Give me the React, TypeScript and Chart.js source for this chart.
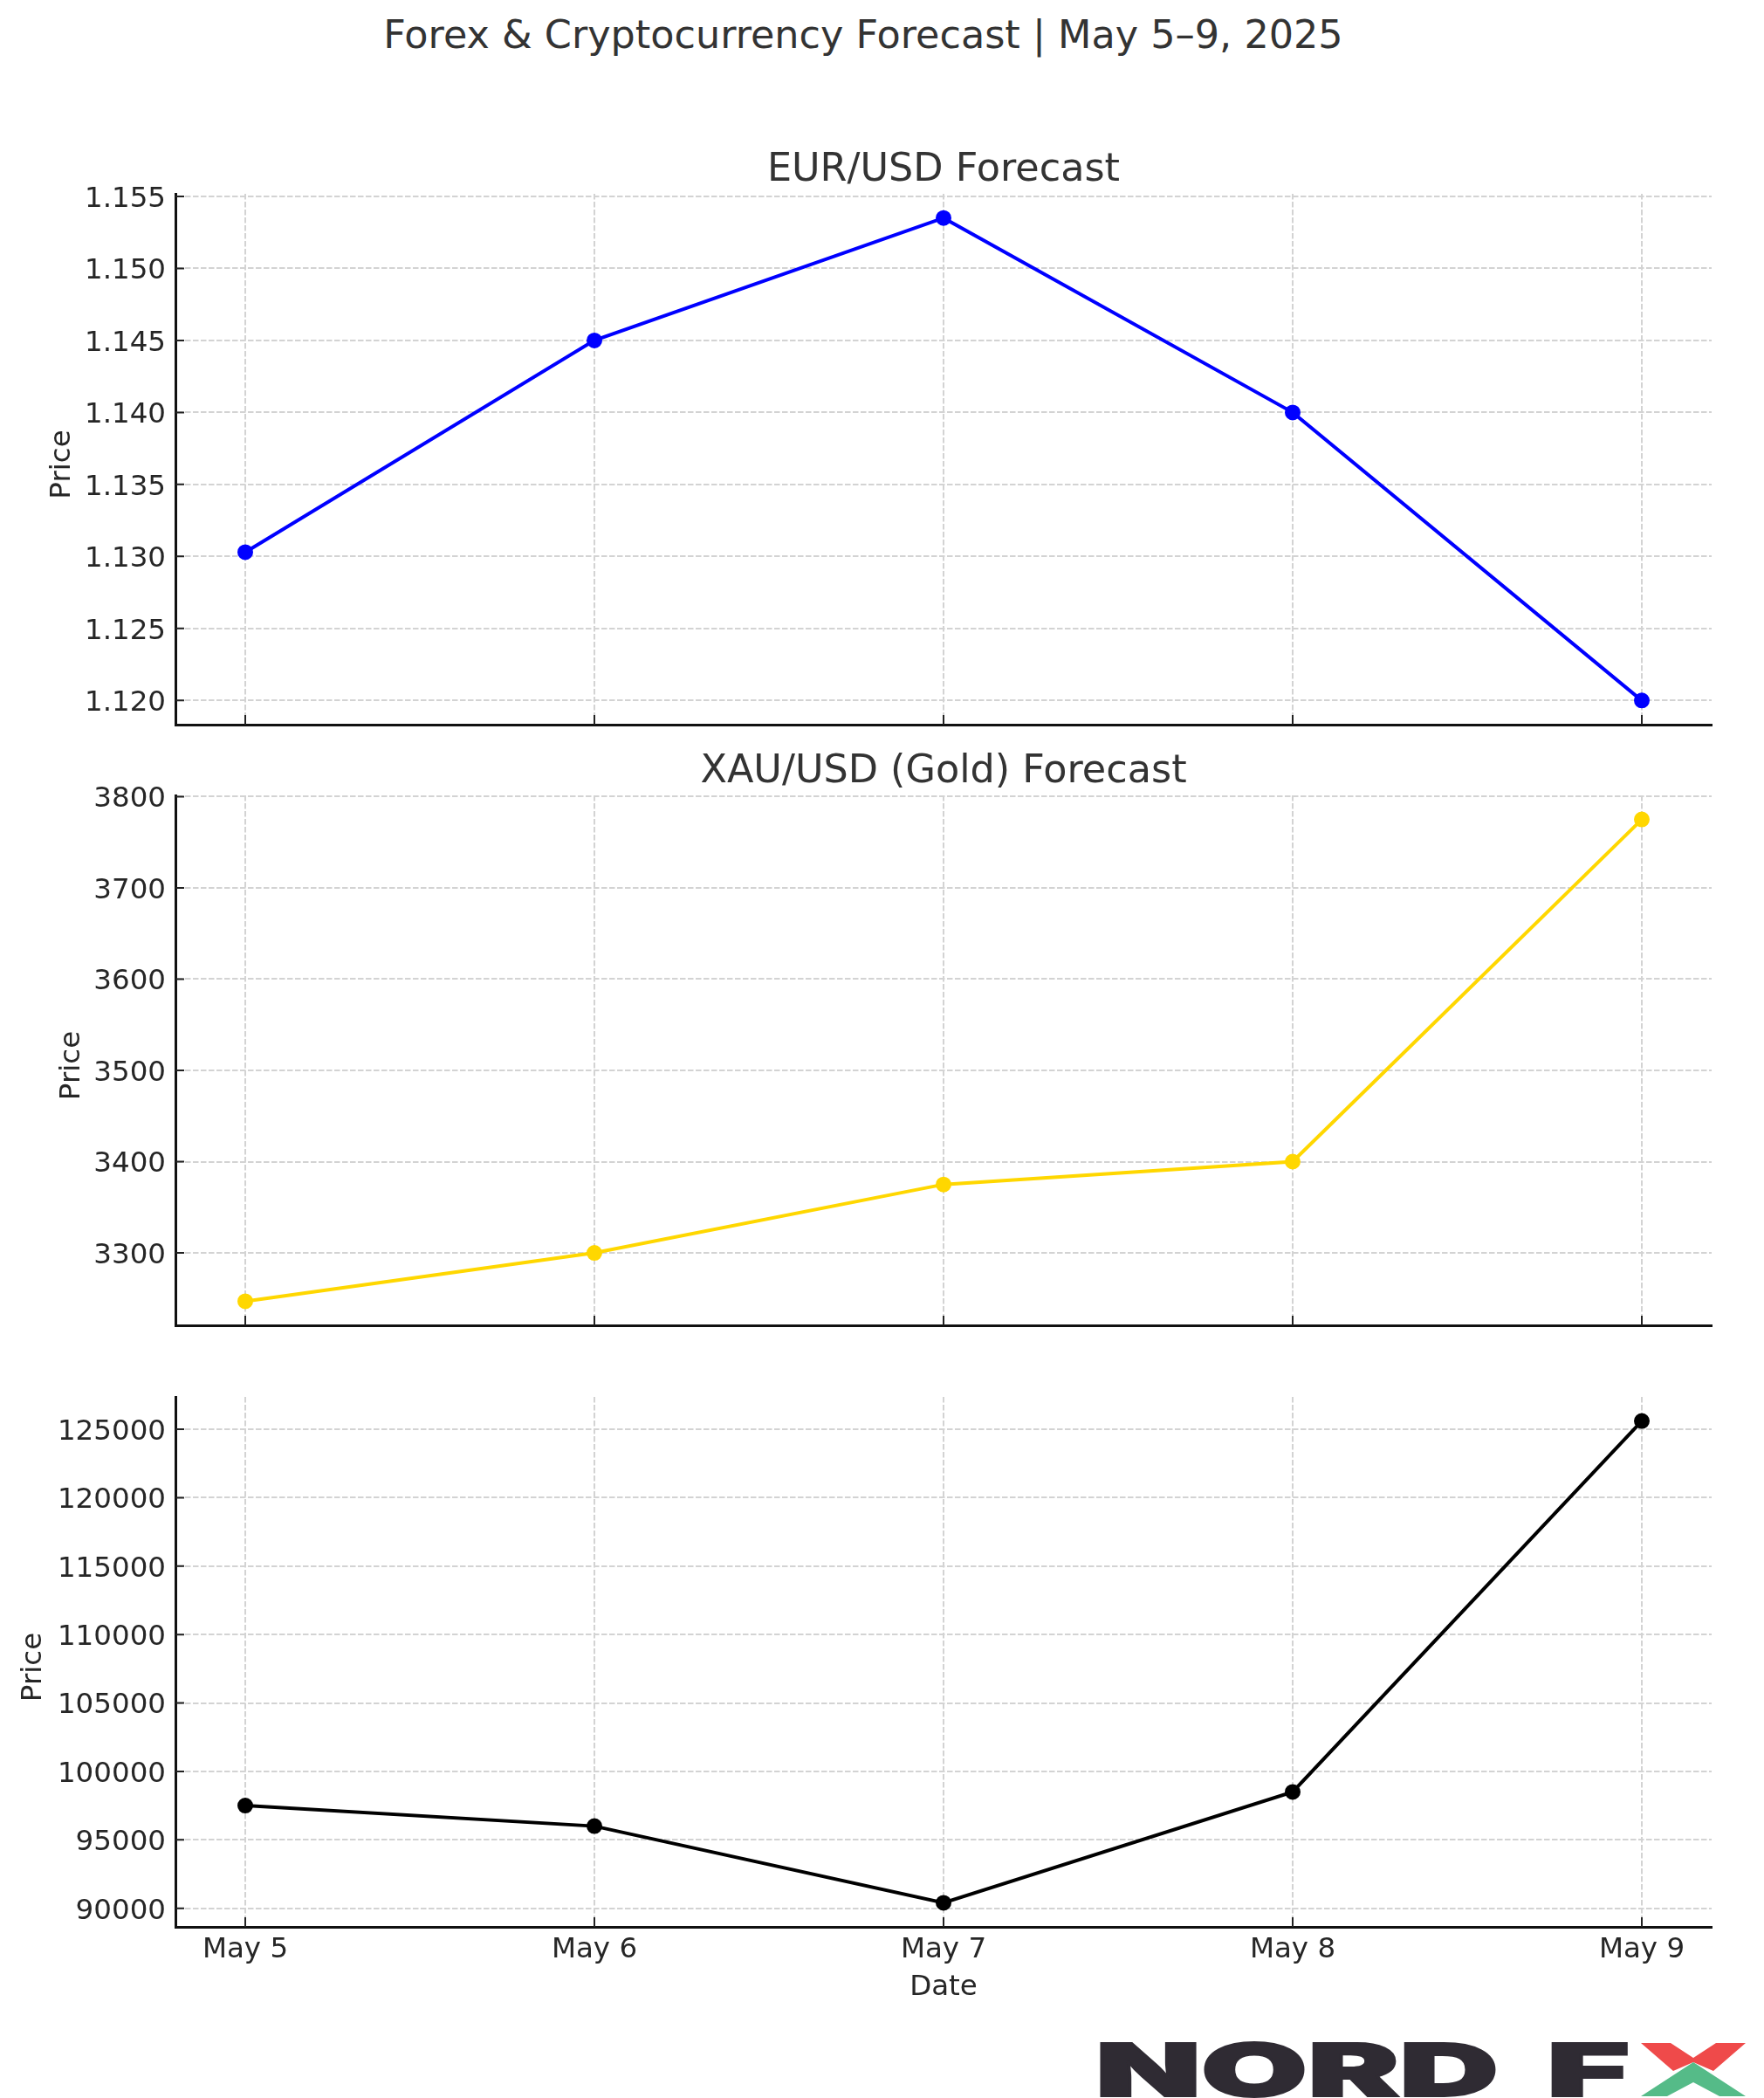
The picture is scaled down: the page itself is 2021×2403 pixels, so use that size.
import { Chart, registerables } from "chart.js";
import { useEffect, useRef } from "react";

Chart.register(...registerables);

const dates = ["May 5", "May 6", "May 7", "May 8", "May 9"];

const eurValues = [1.1303, 1.145, 1.1535, 1.14, 1.12];
const goldValues = [3247, 3300, 3375, 3400, 3775];
const btcValues = [97500, 96000, 90400, 98500, 125600];

const eurTicks = [1.12, 1.125, 1.13, 1.135, 1.14, 1.145, 1.15, 1.155];
const goldTicks = [3300, 3400, 3500, 3600, 3700, 3800];
const btcTicks = [90000, 95000, 100000, 105000, 110000, 115000, 120000, 125000];

const FONT = "'DejaVu Sans'";
const AXIS_LEFT = 201;
const AXIS_RIGHT = 1961;
const TITLE_BOX = 56;

type PanelProps = {
  title?: string;
  values: number[];
  yTicks: number[];
  decimals: number;
  color: string;
  plotTop: number;
  plotBottom: number;
  labelLeft: number;
  lastPanel?: boolean;
};

// matplotlib style inward tick marks, taken from the scales
const inwardTicks = {
  id: "inwardTicks",
  afterDraw(chart: any) {
    const { ctx, scales } = chart;
    const { left, bottom } = chart.chartArea;
    ctx.save();
    ctx.strokeStyle = "#222222";
    ctx.lineWidth = 2;
    ctx.beginPath();
    scales.y.ticks.forEach((t: any) => {
      const y = scales.y.getPixelForValue(t.value);
      ctx.moveTo(left, y);
      ctx.lineTo(left + 10, y);
    });
    scales.x.ticks.forEach((t: any) => {
      const x = scales.x.getPixelForValue(t.value);
      ctx.moveTo(x, bottom);
      ctx.lineTo(x, bottom - 11);
    });
    ctx.stroke();
    ctx.restore();
  },
};

// the y axis title sits a little below the middle of the axis, which
// the scale's own title can't do
const priceLabel = {
  id: "priceLabel",
  afterDraw(chart: any) {
    const { ctx, chartArea } = chart;
    ctx.save();
    ctx.translate(chart.scales.y.left + 22, (chartArea.top + chartArea.bottom) / 2 + 6);
    ctx.rotate(-Math.PI / 2);
    ctx.font = `32.5px ${FONT}`;
    ctx.fillStyle = "#262626";
    ctx.textAlign = "center";
    ctx.textBaseline = "middle";
    ctx.fillText("Price", 0, 0);
    ctx.restore();
  },
};

function LinePanel(props: PanelProps) {
  const canvasRef = useRef<HTMLCanvasElement | null>(null);
  const topSpace = TITLE_BOX;
  const bottomSpace = props.lastPanel ? 89 : 34;
  const canvasTop = props.plotTop - topSpace;
  const canvasHeight = props.plotBottom + bottomSpace - canvasTop;

  useEffect(() => {
    const canvas = canvasRef.current;
    if (!canvas) {
      return;
    }

    const low = Math.min(...props.values);
    const high = Math.max(...props.values);
    const margin = (high - low) * 0.05;
    const grid = { color: "#d3d3d3", lineWidth: 2, drawTicks: false };
    const border = { color: "#111111", width: 3, dash: [6.5, 2.5] };

    const chart = new Chart(canvas, {
      type: "line",
      data: {
        datasets: [
          {
            data: props.values.map((v, i) => ({ x: i, y: v })),
            borderColor: props.color,
            backgroundColor: props.color,
            borderWidth: 4,
            pointRadius: 7,
            pointHoverRadius: 7,
            tension: 0,
          },
        ],
      },
      options: {
        responsive: false,
        animation: false,
        layout: {
          padding: {
            left: props.labelLeft,
            right: 2021 - AXIS_RIGHT,
            top: props.title ? 0 : topSpace,
            bottom: 0,
          },
        },
        plugins: {
          legend: { display: false },
          tooltip: { enabled: false },
          title: {
            display: !!props.title,
            text: props.title,
            color: "#333333",
            fullSize: false,
            font: { family: FONT, size: 44.5, weight: "normal", lineHeight: "52px" },
            padding: { top: 3, bottom: 1 },
          },
        },
        scales: {
          x: {
            type: "linear",
            min: -0.2,
            max: dates.length - 0.8,
            grid,
            border,
            afterBuildTicks: (scale: any) => {
              scale.ticks = dates.map((_, i) => ({ value: i }));
            },
            afterFit: (scale: any) => {
              scale.height = bottomSpace;
            },
            ticks: {
              display: !!props.lastPanel,
              color: "#262626",
              padding: 7,
              maxRotation: 0,
              font: { family: FONT, size: 32.5 },
              callback: (v: any) => dates[v],
            },
            title: {
              display: !!props.lastPanel,
              text: "Date",
              color: "#262626",
              padding: 0,
              font: { family: FONT, size: 32.5 },
            },
          },
          y: {
            type: "linear",
            min: low - margin,
            max: high + margin,
            grid,
            border,
            afterBuildTicks: (scale: any) => {
              scale.ticks = props.yTicks.map((v) => ({ value: v }));
            },
            afterFit: (scale: any) => {
              scale.width = AXIS_LEFT - props.labelLeft;
            },
            ticks: {
              color: "#262626",
              padding: 11,
              labelOffset: 3.5,
              font: { family: FONT, size: 32.5 },
              callback: (v: any) => Number(v).toFixed(props.decimals),
            },
          },
        },
      },
      plugins: [inwardTicks, priceLabel],
    } as any);

    return () => {
      chart.destroy();
    };
  }, []);

  return (
    <canvas
      ref={canvasRef}
      width={2021}
      height={canvasHeight}
      style={{ position: "absolute", left: 0, top: canvasTop, display: "block" }}
    />
  );
}

function Logo() {
  const textStyle = {
    fontFamily: "Inter",
    fontWeight: 900,
    fontSize: 84,
    fill: "#2f2b33",
    stroke: "#2f2b33",
    strokeWidth: 2,
  };
  return (
    <svg
      width={2021}
      height={2403}
      style={{ position: "absolute", left: 0, top: 0, pointerEvents: "none" }}
    >
      <text x={1255} y={2401} textLength={462} lengthAdjust="spacingAndGlyphs" style={textStyle}>
        NORD
      </text>
      <text x={1772} y={2401} textLength={95} lengthAdjust="spacingAndGlyphs" style={textStyle}>
        F
      </text>
      <polygon
        fill="#ef4a4a"
        points="1880,2340 1914,2340 1940,2357 1966,2340 2000,2340 1963,2372 1940,2362 1917,2372"
      />
      <polygon
        fill="#55bb88"
        points="1940,2362 2000,2401 1970,2401 1940,2385 1910,2401 1880,2401"
      />
    </svg>
  );
}

export default function App() {
  return (
    <div
      style={{
        position: "absolute",
        left: 0,
        top: 0,
        width: 2021,
        height: 2403,
        overflow: "hidden",
        background: "#ffffff",
      }}
    >
      <div
        style={{
          position: "absolute",
          left: 989,
          top: 14,
          transform: "translateX(-50%)",
          whiteSpace: "nowrap",
          fontFamily: FONT,
          fontSize: 44.5,
          lineHeight: "52px",
          color: "#333333",
        }}
      >
        Forex &amp; Cryptocurrency Forecast | May 5–9, 2025
      </div>
      <LinePanel
        title="EUR/USD Forecast"
        values={eurValues}
        yTicks={eurTicks}
        decimals={3}
        color="#0000ff"
        plotTop={222}
        plotBottom={830}
        labelLeft={50}
      />
      <LinePanel
        title="XAU/USD (Gold) Forecast"
        values={goldValues}
        yTicks={goldTicks}
        decimals={0}
        color="#ffd700"
        plotTop={911}
        plotBottom={1518}
        labelLeft={61}
      />
      <LinePanel
        values={btcValues}
        yTicks={btcTicks}
        decimals={0}
        color="#000000"
        plotTop={1600}
        plotBottom={2207}
        labelLeft={17}
        lastPanel
      />
      <Logo />
    </div>
  );
}
